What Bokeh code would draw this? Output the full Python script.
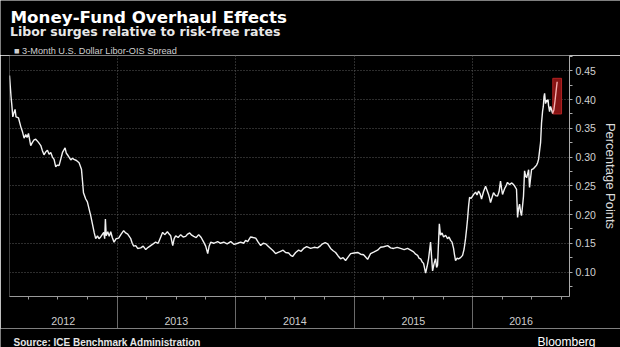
from bokeh.plotting import figure
from bokeh.layouts import column
from bokeh.models import (Range1d, FixedTicker, NumeralTickFormatter, Label,
                          LinearAxis, CustomJSTickFormatter)
from bokeh.embed import file_html
from bokeh.resources import INLINE

# ---------------- data ----------------
dates = [
    2012.093, 2012.099, 2012.106, 2012.112, 2012.121, 2012.129, 2012.140, 2012.148,
    2012.169, 2012.188, 2012.201, 2012.216, 2012.230, 2012.241, 2012.253, 2012.272,
    2012.285, 2012.300, 2012.314, 2012.336, 2012.357, 2012.369, 2012.384, 2012.399,
    2012.413, 2012.427, 2012.441, 2012.455, 2012.469, 2012.483, 2012.497, 2012.511,
    2012.525, 2012.540, 2012.551, 2012.562, 2012.572, 2012.582, 2012.595, 2012.610,
    2012.624, 2012.637, 2012.658, 2012.680, 2012.700, 2012.708, 2012.717, 2012.736,
    2012.750, 2012.764, 2012.778, 2012.795, 2012.808, 2012.820, 2012.835, 2012.848,
    2012.862, 2012.875, 2012.888, 2012.896, 2012.902, 2012.909, 2012.922, 2012.934,
    2012.947, 2012.960, 2012.975, 2012.993, 2013.014, 2013.035, 2013.056, 2013.073,
    2013.090, 2013.103, 2013.116, 2013.128, 2013.141, 2013.158, 2013.174, 2013.200,
    2013.221, 2013.242, 2013.263, 2013.284, 2013.305, 2013.326, 2013.347, 2013.369,
    2013.385, 2013.402, 2013.425, 2013.440, 2013.453, 2013.470, 2013.482, 2013.495,
    2013.516, 2013.537, 2013.558, 2013.579, 2013.596, 2013.613, 2013.630, 2013.647,
    2013.668, 2013.689, 2013.710, 2013.731, 2013.748, 2013.765, 2013.777, 2013.790,
    2013.815, 2013.849, 2013.874, 2013.900, 2013.929, 2013.959, 2013.988, 2014.018,
    2014.043, 2014.068, 2014.085, 2014.102, 2014.127, 2014.148, 2014.170, 2014.191,
    2014.212, 2014.233, 2014.254, 2014.275, 2014.296, 2014.317, 2014.338, 2014.359,
    2014.380, 2014.401, 2014.422, 2014.448, 2014.465, 2014.481, 2014.507, 2014.532,
    2014.553, 2014.574, 2014.600, 2014.633, 2014.663, 2014.692, 2014.718, 2014.734,
    2014.756, 2014.777, 2014.802, 2014.823, 2014.844, 2014.865, 2014.886, 2014.907,
    2014.928, 2014.949, 2014.971, 2015.000, 2015.030, 2015.055, 2015.080, 2015.097,
    2015.114, 2015.139, 2015.169, 2015.198, 2015.223, 2015.249, 2015.283, 2015.308,
    2015.333, 2015.363, 2015.392, 2015.422, 2015.451, 2015.477, 2015.502, 2015.519,
    2015.536, 2015.548, 2015.561, 2015.573, 2015.586, 2015.603, 2015.616, 2015.628,
    2015.645, 2015.654, 2015.662, 2015.675, 2015.687, 2015.696, 2015.704, 2015.719,
    2015.729, 2015.742, 2015.755, 2015.772, 2015.788, 2015.801, 2015.814, 2015.826,
    2015.839, 2015.847, 2015.856, 2015.869, 2015.881, 2015.898, 2015.915, 2015.928,
    2015.940, 2015.949, 2015.957, 2015.966, 2015.974, 2015.987, 2015.999, 2016.012,
    2016.025, 2016.037, 2016.050, 2016.063, 2016.075, 2016.092, 2016.109, 2016.122,
    2016.134, 2016.143, 2016.151, 2016.164, 2016.176, 2016.193, 2016.210, 2016.223,
    2016.235, 2016.244, 2016.252, 2016.269, 2016.282, 2016.294, 2016.311, 2016.328,
    2016.341, 2016.353, 2016.370, 2016.379, 2016.387, 2016.396, 2016.404, 2016.412,
    2016.421, 2016.429, 2016.438, 2016.446, 2016.455, 2016.463, 2016.472, 2016.480,
    2016.488, 2016.497, 2016.514, 2016.531, 2016.539, 2016.548, 2016.556, 2016.564,
    2016.573, 2016.581, 2016.590, 2016.596, 2016.602, 2016.607, 2016.615, 2016.623,
    2016.629, 2016.636, 2016.640, 2016.649, 2016.657, 2016.666, 2016.674,
]
spread = [
    0.442, 0.425, 0.405, 0.392, 0.370, 0.376, 0.383, 0.370,
    0.368, 0.353, 0.345, 0.333, 0.339, 0.334, 0.341, 0.320,
    0.325, 0.330, 0.331, 0.326, 0.320, 0.312, 0.304, 0.309,
    0.312, 0.305, 0.308, 0.300, 0.296, 0.283, 0.286, 0.285,
    0.296, 0.308, 0.312, 0.316, 0.307, 0.304, 0.300, 0.295,
    0.298, 0.296, 0.294, 0.290, 0.279, 0.260, 0.238, 0.227,
    0.222, 0.210, 0.198, 0.181, 0.168, 0.158, 0.163, 0.158,
    0.161, 0.165, 0.169, 0.158, 0.192, 0.163, 0.170, 0.162,
    0.170, 0.160, 0.152, 0.158, 0.159, 0.166, 0.172, 0.168,
    0.166, 0.162, 0.158, 0.150, 0.145, 0.146, 0.141, 0.142,
    0.145, 0.139, 0.143, 0.146, 0.149, 0.152, 0.150, 0.161,
    0.169, 0.165, 0.170, 0.166, 0.163, 0.146, 0.158, 0.163,
    0.160, 0.165, 0.161, 0.162, 0.166, 0.168, 0.164, 0.162,
    0.160, 0.165, 0.160, 0.152, 0.145, 0.132, 0.145, 0.152,
    0.150, 0.153, 0.150, 0.152, 0.149, 0.153, 0.148, 0.150,
    0.152, 0.150, 0.155, 0.153, 0.161, 0.160, 0.159, 0.152,
    0.146, 0.150, 0.149, 0.145, 0.141, 0.137, 0.132, 0.134,
    0.136, 0.138, 0.134, 0.133, 0.129, 0.127, 0.134, 0.138,
    0.136, 0.141, 0.144, 0.141, 0.143, 0.142, 0.146, 0.149,
    0.151, 0.149, 0.141, 0.137, 0.134, 0.128, 0.123, 0.125,
    0.120, 0.126, 0.132, 0.133, 0.134, 0.131, 0.130, 0.126,
    0.122, 0.132, 0.135, 0.138, 0.143, 0.144, 0.146, 0.142,
    0.141, 0.143, 0.141, 0.139, 0.141, 0.138, 0.135, 0.131,
    0.129, 0.124, 0.123, 0.118, 0.115, 0.098, 0.110, 0.123,
    0.152, 0.125, 0.102, 0.115, 0.123, 0.108, 0.112, 0.184,
    0.164, 0.168, 0.161, 0.164, 0.158, 0.161, 0.155, 0.152,
    0.141, 0.130, 0.120, 0.124, 0.123, 0.125, 0.129, 0.140,
    0.158, 0.175, 0.192, 0.215, 0.230, 0.228, 0.232, 0.236,
    0.239, 0.234, 0.241, 0.236, 0.227, 0.240, 0.249, 0.242,
    0.235, 0.228, 0.221, 0.230, 0.238, 0.233, 0.232, 0.240,
    0.258, 0.245, 0.235, 0.245, 0.250, 0.256, 0.252, 0.255,
    0.253, 0.250, 0.244, 0.195, 0.210, 0.218, 0.205, 0.198,
    0.215, 0.232, 0.276, 0.268, 0.264, 0.270, 0.278, 0.247,
    0.262, 0.278, 0.280, 0.284, 0.286, 0.290, 0.296, 0.310,
    0.325, 0.359, 0.380, 0.388, 0.405, 0.411, 0.393, 0.399,
    0.396, 0.400, 0.390, 0.379, 0.388, 0.382, 0.376,
]
# highlighted latest move (inside red box)
hl_dates = [2016.674, 2016.685, 2016.695, 2016.704, 2016.713]
hl_spread = [0.376, 0.382, 0.398, 0.415, 0.431]
hl_box_x = [2016.676, 2016.750]
hl_box_y = [0.375, 0.437]

y_ticks = [0.10, 0.15, 0.20, 0.25, 0.30, 0.35, 0.40, 0.45]
y_minor = [0.075, 0.125, 0.175, 0.225, 0.275, 0.325, 0.375, 0.425, 0.475]
years = [2012, 2013, 2014, 2015, 2016]
x_start, x_end = 2012.093, 2016.817
y_start, y_end = 0.0574, 0.4767

title = "Money-Fund Overhaul Effects"
subtitle = "Libor surges relative to risk-free rates"
series_name = "3-Month U.S. Dollar Libor-OIS Spread"
y_label = "Percentage Points"
source = "Source: ICE Benchmark Administration"
brand = "Bloomberg"

# ---------------- layout constants ----------------
W = 620
HEAD_H, MAIN_H, FOOT_H = 55, 273, 19
LEFT, RIGHT, BOTTOM = 9, 51, 30


def make_strip(height):
    f = figure(width=W, height=height, x_range=Range1d(0, 1), y_range=Range1d(0, 1),
               x_axis_type=None, y_axis_type=None, output_backend="svg",
               toolbar_location=None, background_fill_color="black",
               border_fill_color="black", outline_line_color=None, min_border=0)
    f.grid.visible = False
    f.frame_align = False
    return f


def put(f, strip_h, text, cx, cy, size, color, font="Liberation Sans", style="normal",
        align="left"):
    # cx: anchor x, cy: baseline y, both measured from the strip's top-left corner
    f.add_layout(Label(x=cx, y=strip_h - cy, x_units="screen", y_units="screen",
                       text=text, text_font=font, text_font_style=style,
                       text_font_size=size, text_color=color,
                       text_baseline="alphabetic", text_align=align))


# ---------------- header ----------------
head = make_strip(HEAD_H)
put(head, HEAD_H, title, 10, 16, "16.7px", "white", font="DejaVu Sans", style="bold")
put(head, HEAD_H, subtitle, 9.5, 30.5, "12.5px", "#e8e8e8", font="DejaVu Sans", style="bold")
put(head, HEAD_H, "\u25A0 " + series_name, 13.5, 50, "9.2px", "#d0d0d0")

# ---------------- main chart ----------------
p = figure(width=W, height=MAIN_H, x_range=Range1d(x_start, x_end),
           y_range=Range1d(y_start, y_end), y_axis_location="right",
           output_backend="svg", toolbar_location=None,
           background_fill_color="black", border_fill_color="black",
           outline_line_color=None,
           min_border_left=LEFT, min_border_right=RIGHT,
           min_border_top=0, min_border_bottom=BOTTOM)
p.frame_align = False

p.quad(left=[hl_box_x[0]], right=[hl_box_x[1]], bottom=[hl_box_y[0]],
       top=[hl_box_y[1]], fill_color="#8c1414", fill_alpha=0.95,
       line_color="#b32222", line_width=1)
p.line(dates, spread, line_color="#f2f2f2", line_width=1.4)
p.line(hl_dates, hl_spread, line_color="#f7b0b0", line_width=1.4)

# x axis: year labels centred on the visible part of each year, quarterly ticks
year_mids = [(max(y, x_start) + min(y + 1, x_end)) / 2 for y in years]
quarters = sorted([y + q for y in years for q in (0.0, 0.25, 0.5, 0.75)
                   if x_start < y + q < x_end])
xax = p.xaxis[0]
xax.ticker = FixedTicker(ticks=year_mids, minor_ticks=quarters)
xax.formatter = CustomJSTickFormatter(code="return String(Math.floor(tick));")
xax.major_label_text_font = "Liberation Sans"
xax.major_label_text_font_size = "10.7px"
xax.major_label_text_color = "#cfcfcf"
xax.major_label_standoff = 17
xax.major_tick_in = 0
xax.major_tick_out = 0
xax.major_tick_line_color = None
xax.minor_tick_in = 0
xax.minor_tick_out = 3
xax.minor_tick_line_color = "#9a9a9a"
xax.axis_line_color = "#9a9a9a"

# year separators: second axis whose ticks reach up to the first axis line
sep = LinearAxis(ticker=FixedTicker(ticks=[2013, 2014, 2015, 2016], minor_ticks=[]),
                 axis_line_color=None, major_tick_in=30, major_tick_out=1,
                 major_tick_line_color="#6a6a6a", minor_tick_line_color=None,
                 major_label_text_font_size="1px", major_label_text_alpha=0,
                 major_label_standoff=0)
p.add_layout(sep, "below")

# y axis
yax = p.yaxis[0]
yax.ticker = FixedTicker(ticks=y_ticks, minor_ticks=y_minor)
yax.formatter = NumeralTickFormatter(format="0.00")
yax.major_label_text_font = "Liberation Sans"
yax.major_label_text_font_size = "10.5px"
yax.major_label_text_color = "#d2d2d2"
yax.major_label_standoff = 3
yax.major_tick_in = 0
yax.major_tick_out = 3
yax.minor_tick_in = 0
yax.minor_tick_out = 3
yax.major_tick_line_color = "#aaaaaa"
yax.minor_tick_line_color = "#aaaaaa"
yax.axis_line_color = "#aaaaaa"
yax.axis_label = y_label
yax.axis_label_text_font = "Liberation Sans"
yax.axis_label_text_font_size = "13px"
yax.axis_label_text_font_style = "normal"
yax.axis_label_text_color = "#dcdcdc"
yax.axis_label_standoff = 4

# grid
p.xgrid.ticker = FixedTicker(ticks=[2013, 2014, 2015, 2016])
p.xgrid.grid_line_color = "#5a5a5a"
p.xgrid.grid_line_dash = "1 2"
p.ygrid.ticker = FixedTicker(ticks=y_ticks)
p.ygrid.grid_line_color = "#5a5a5a"
p.ygrid.grid_line_dash = "1 2"

# ---------------- footer ----------------
FOOT_TOP = HEAD_H + MAIN_H
foot = make_strip(FOOT_H)
put(foot, FOOT_H, source, 13, 341.5 - FOOT_TOP, "10px", "#e6e6e6", style="bold")
put(foot, FOOT_H, brand, 595, 341 - FOOT_TOP, "12px", "white", align="right")

layout = column(head, p, foot, spacing=0)
open("out.html", "w").write(file_html(layout, INLINE))
